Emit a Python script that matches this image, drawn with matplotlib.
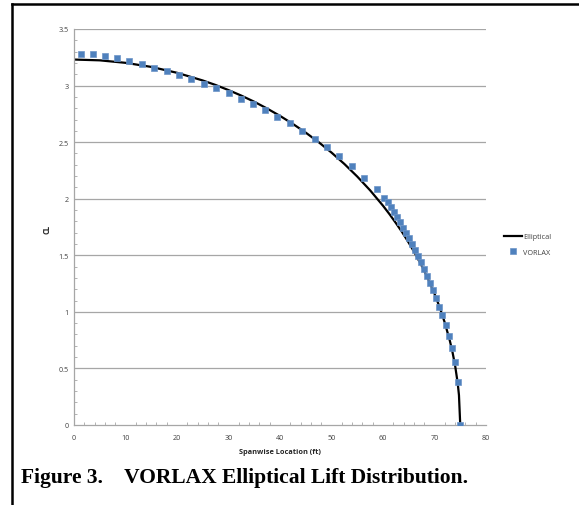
import matplotlib
matplotlib.use("Agg")
import matplotlib.pyplot as plt
from matplotlib.lines import Line2D
from matplotlib.ticker import MultipleLocator

# Elliptical distribution
ell_x = [0, 5, 10, 15, 20, 25, 27.5, 30, 32.5, 35, 37.5, 40, 42.5, 45, 47.5, 50, 52.5, 55,
         57.5, 60, 61.25, 62.5, 63.75, 65, 66.25, 67.5, 68.75, 70, 71, 72, 73, 73.5, 74,
         74.5, 74.75, 75]
ell_cl = [3.23, 3.223, 3.201, 3.165, 3.113, 3.045, 3.005, 2.960, 2.911, 2.857, 2.797, 2.732,
          2.661, 2.584, 2.500, 2.408, 2.307, 2.196, 2.074, 1.938, 1.864, 1.785, 1.702, 1.611,
          1.514, 1.408, 1.291, 1.160, 1.041, 0.904, 0.741, 0.643, 0.526, 0.372, 0.264, 0.0]

# VORLAX points
vor_x = [1.30, 3.63, 5.96, 8.35, 10.74, 13.14, 15.59, 18.00, 20.39, 22.78, 25.24,
         27.63, 30.04, 32.37, 34.70, 37.09, 39.46, 41.88, 44.27, 46.74, 49.13, 51.52,
         53.98, 56.31, 58.78, 60.25, 60.91, 61.55, 62.14, 62.66, 63.24, 63.88, 64.47,
         65.05, 65.63, 66.21, 66.74, 67.38, 67.96, 68.60, 69.13, 69.77, 70.35, 70.93,
         71.51, 72.18, 72.82, 73.40, 74.04, 74.62, 75.00]
vor_cl = [3.282, 3.276, 3.264, 3.241, 3.220, 3.193, 3.158, 3.129, 3.096, 3.058, 3.017,
          2.976, 2.934, 2.884, 2.837, 2.782, 2.722, 2.667, 2.596, 2.525, 2.457, 2.378,
          2.292, 2.186, 2.086, 2.009, 1.968, 1.924, 1.880, 1.836, 1.792, 1.744, 1.697,
          1.650, 1.600, 1.549, 1.496, 1.438, 1.379, 1.320, 1.255, 1.196, 1.120, 1.043,
          0.972, 0.884, 0.784, 0.683, 0.554, 0.383, 0.0]

x_ticks = [0, 10, 20, 30, 40, 50, 60, 70, 80]
y_ticks = [0, 0.5, 1, 1.5, 2, 2.5, 3, 3.5]
y_tick_labels = ["0", "0.5", "1", "1.5", "2", "2.5", "3", "3.5"]

W, H = 579, 506
fig = plt.figure(figsize=(W / 100, H / 100), dpi=100)
ax = fig.add_axes([74 / W, 1 - 426 / H, (486 - 74) / W, (426 - 30) / H])

grid_c = "#a6a6a6"
tick_c = "#404040"
for yv in y_ticks[1:]:
    ax.axhline(yv, color=grid_c, lw=0.9, zorder=0)

l1, = ax.plot(ell_x, ell_cl, color="black", lw=1.6, zorder=2, label="Elliptical")
l2, = ax.plot(vor_x, vor_cl, ls="none", marker="s", ms=4.3, color="#4f81bd",
              mec="#6d95c8", mew=0.5, zorder=3, label="VORLAX")

ax.set_xlim(0, 80)
ax.set_ylim(0, 3.5)
ax.set_xticks(x_ticks)
ax.set_xticklabels([str(v) for v in x_ticks])
ax.set_yticks(y_ticks)
ax.set_yticklabels(y_tick_labels)
ax.xaxis.set_minor_locator(MultipleLocator(2))
ax.yaxis.set_minor_locator(MultipleLocator(0.1))

for s in ["top", "right"]:
    ax.spines[s].set_visible(False)
for s in ["left", "bottom"]:
    ax.spines[s].set_color(grid_c)
    ax.spines[s].set_linewidth(0.9)

tick_font = "Open Sans"
ax.tick_params(axis="both", which="major", length=0, labelsize=5.2, labelcolor=tick_c)
ax.tick_params(axis="y", which="major", pad=4)
ax.tick_params(axis="x", which="major", pad=6.5)
ax.tick_params(axis="both", which="minor", direction="in", length=2.2, width=0.6, color=grid_c)
for lab in ax.get_xticklabels() + ax.get_yticklabels():
    lab.set_fontfamily(tick_font)

fig.text(47 / W, 1 - 229 / H, "CL", rotation=90, ha="center", va="center",
         fontsize=5.5, fontweight="bold", family=tick_font, color="#262626")
fig.text(280 / W, 1 - 453 / H, "Spanwise Location (ft)", ha="center", va="center",
         fontsize=5.3, fontweight="bold", family=tick_font, color="#262626")

leg = fig.legend(handles=[l1, l2], loc="center left", bbox_to_anchor=(504 / W, 1 - 245.5 / H),
                 frameon=False, handlelength=2.5, handletextpad=0.15,
                 borderpad=0, borderaxespad=0, labelspacing=1.2,
                 prop={"family": tick_font, "size": 5.2})
for t in leg.get_texts():
    t.set_color(tick_c)

fig.text(21 / W, 1 - 478 / H, "Figure 3.    VORLAX Elliptical Lift Distribution.",
         ha="left", va="center", fontsize=15.5, fontweight="bold", family="Liberation Serif",
         color="black")

# page border
fig.add_artist(Line2D([12 / W, 12 / W], [0, 1 - 4.5 / H], transform=fig.transFigure,
                      color="black", lw=1.8))
fig.add_artist(Line2D([12 / W, 1], [1 - 4.5 / H, 1 - 4.5 / H], transform=fig.transFigure,
                      color="black", lw=1.8))

fig.savefig("out.png", dpi=100)
